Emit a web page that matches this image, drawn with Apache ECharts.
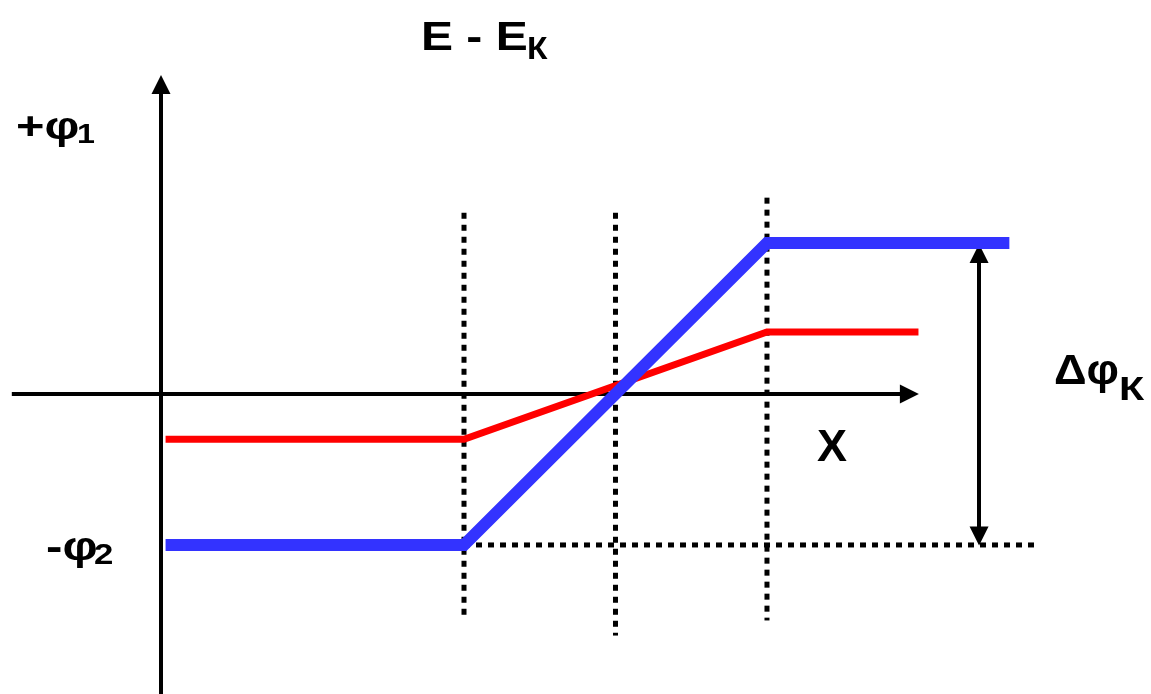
<!DOCTYPE html>
<html>
<head>
    <meta charset="utf-8">
    <script src="https://cdn.jsdelivr.net/npm/echarts@6/dist/echarts.min.js"></script>
</head>
<body style="margin:0">
    <div id="main" style="width: 1151px; height: 694px"></div>
    <script type="text/javascript">
        // schematic units: 1 unit ~ one gap between dotted lines
        var blueLine = [[0.03, -1], [2, -1], [4, 1], [5.6, 1]];
        var redLine = [[0.03, -0.3], [2, -0.3], [4, 0.41], [5.0, 0.41]];
        var dotX1 = [[2, 1.2], [2, -1.5]];
        var dotX2 = [[3, 1.2], [3, -1.6]];
        var dotX3 = [[4, 1.3], [4, -1.5]];
        var dotBottom = [[2, -1], [5.77, -1]];
        var axisY = [[0, -2.0], [0, 2.05]];
        var axisX = [[-0.985, 0], [4.94, 0]];
        var deltaArrow = [[5.4, -0.94], [5.4, 0.93]];

        function dotted(d) {
            return {
                type: 'line', data: d, showSymbol: false, clip: false, silent: true,
                lineStyle: { color: '#000', width: 5, type: [6, 6], cap: 'butt' }
            };
        }

        // label helper: left x, cap-middle y, font size, horizontal stretch
        function label(txt, x, y, size, sx) {
            return {
                type: 'text', x: x, y: y, scaleX: sx || 1,
                style: {
                    text: txt, fill: '#000',
                    font: 'bold ' + size + 'px "Liberation Sans", Arial',
                    textVerticalAlign: 'middle'
                }
            };
        }

        var myChart = echarts.init(document.getElementById('main'));
        var option = {
            animation: false,
            backgroundColor: '#ffffff',
            grid: { left: 0, right: 0, top: 0, bottom: 0 },
            xAxis: { type: 'value', min: -1.063, max: 6.535, show: false },
            yAxis: { type: 'value', min: -1.987, max: 2.609, show: false },
            series: [
                dotted(dotX1),
                dotted(dotX2),
                dotted(dotX3),
                dotted(dotBottom),
                {
                    type: 'lines', coordinateSystem: 'cartesian2d', silent: true,
                    symbol: ['none', 'triangle'], symbolSize: 19,
                    lineStyle: { color: '#000', width: 4, opacity: 1 },
                    data: [{ coords: axisY }, { coords: axisX }]
                },
                {
                    type: 'lines', coordinateSystem: 'cartesian2d', silent: true,
                    symbol: ['triangle', 'triangle'], symbolSize: 19,
                    lineStyle: { color: '#000', width: 4, opacity: 1 },
                    data: [{ coords: deltaArrow }]
                },
                {
                    type: 'line', data: redLine, showSymbol: false, clip: false,
                    lineStyle: { color: '#ff0000', width: 7, join: 'miter', cap: 'butt' }
                },
                {
                    type: 'line', data: blueLine, showSymbol: false, clip: false,
                    lineStyle: { color: '#3333ff', width: 12, join: 'miter', cap: 'butt' }
                }
            ],
            graphic: [
                label('E - E', 421, 39, 40, 1.2),
                label('К', 527, 50, 32, 1.05),
                label('+φ', 16, 128, 39, 1.25),
                label('1', 77, 135, 28, 1.15),
                label('-φ', 46, 549, 41, 1.2),
                label('2', 94, 556, 29, 1.2),
                label('Δφ', 1054, 372, 42, 1.08),
                label('К', 1119, 391, 33, 1.25),
                label('X', 817, 449, 45, 1)
            ]
        };
        myChart.setOption(option);
    </script>
</body>
</html>
